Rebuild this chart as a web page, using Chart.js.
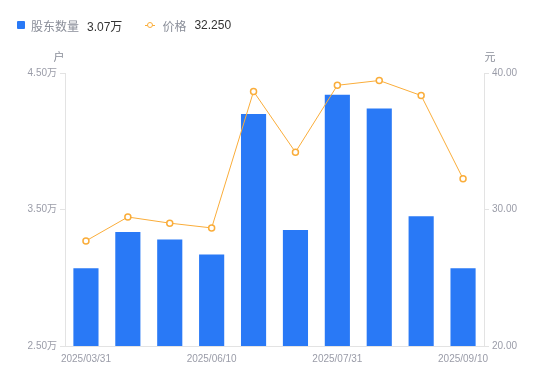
<!DOCTYPE html>
<html>
<head>
<meta charset="utf-8">
<script src="https://cdn.jsdelivr.net/npm/chart.js@4/dist/chart.umd.min.js"></script>
<style>
  html, body { margin: 0; padding: 0; background: #fff; }
  #wrap { position: relative; width: 550px; height: 381px; }
  #legend { position: absolute; left: 17px; top: 16px; height: 18px; display: flex; align-items: center;
    font-family: "Noto Sans CJK SC", "Liberation Sans", sans-serif; font-size: 12px; }
  .item { display: flex; align-items: center; margin-right: 23px; }
  .sq { width: 8px; height: 8px; background: #2979F6; border-radius: 1px; margin-right: 6px; }
  .ln { position: relative; width: 10px; height: 8px; margin-right: 7px; }
  .ln:before { content: ""; position: absolute; left: 0; right: 0; top: 3.5px; height: 1px; background: #FAAD3A; }
  .ln:after { content: ""; position: absolute; left: 2px; top: 1px; width: 4px; height: 4px; border: 1.5px solid #FAAD3A; border-radius: 50%; background: #fff; }
  .nm { color: #8a8e99; margin-right: 8px; }
  .vl { color: #333; font-family: "Liberation Sans", "Noto Sans CJK SC", sans-serif; font-size: 12px; }
  canvas { position: absolute; left: 0; top: 0; }
</style>
</head>
<body>
<div id="wrap">
  <canvas id="c" width="550" height="381"></canvas>
  <div id="legend"></div>
</div>
<script>
const categories = ["2025/03/31","2025/04/18","2025/05/20","2025/06/10","2025/06/30","2025/07/10","2025/07/31","2025/08/20","2025/08/29","2025/09/10"];
const holders = [3.07, 3.335, 3.28, 3.17, 4.20, 3.35, 4.34, 4.24, 3.45, 3.07];   // 万户
const prices = [27.7, 29.45, 29.0, 28.65, 38.65, 34.2, 39.1, 39.45, 38.35, 32.25]; // 元
const leftTicks = [2.5, 3.5, 4.5];
const rightTicks = [20, 30, 40];
const seriesNames = ["股东数量", "价格"];
const axisUnits = ["户", "元"];

const legend = document.getElementById('legend');
legend.innerHTML =
  '<div class="item"><span class="sq"></span><span class="nm">' + seriesNames[0] + '</span><span class="vl">' + holders[holders.length-1].toFixed(2) + '万</span></div>' +
  '<div class="item"><span class="ln"></span><span class="nm">' + seriesNames[1] + '</span><span class="vl">' + prices[prices.length-1].toFixed(3) + '</span></div>';

const tickFont = { family: '"Liberation Sans", "Noto Sans CJK SC", sans-serif', size: 10 };
const tickColor = '#9a9ca8';
const axisColor = '#e3e3e3';

const unitPlugin = {
  id: 'units',
  afterDraw(chart) {
    const ctx = chart.ctx, a = chart.chartArea;
    ctx.save();
    ctx.font = '11px "Noto Sans CJK SC", sans-serif';
    ctx.fillStyle = '#8a8e99';
    ctx.textBaseline = 'middle';
    ctx.textAlign = 'center';
    ctx.fillText(axisUnits[0], a.left - 6, a.top - 16);
    ctx.fillText(axisUnits[1], a.right + 6, a.top - 16);
    ctx.restore();
  }
};

new Chart(document.getElementById('c'), {
  data: {
    labels: categories,
    datasets: [
      { type: 'line', label: seriesNames[1], data: prices, yAxisID: 'y1', order: 0,
        borderColor: '#FAAD3A', borderWidth: 1, tension: 0,
        pointRadius: 3, pointBorderWidth: 1.5, pointBackgroundColor: '#fff', pointBorderColor: '#FAAD3A' },
      { type: 'bar', label: seriesNames[0], data: holders, yAxisID: 'y', order: 1,
        backgroundColor: '#2979F6', barPercentage: 0.6, categoryPercentage: 1 }
    ]
  },
  options: {
    responsive: false,
    animation: false,
    layout: { padding: { top: 73, left: 0, right: 0, bottom: 0 } },
    plugins: { legend: { display: false }, tooltip: { enabled: false } },
    scales: {
      x: {
        offset: true,
        grid: { display: true, drawOnChartArea: false, drawTicks: false, color: 'transparent' },
        border: { display: true, color: axisColor },
        ticks: {
          autoSkip: false, maxRotation: 0, font: tickFont, color: tickColor, padding: 7,
          callback: function(v, i) { return i % 3 === 0 ? categories[i] : ''; }
        },
        afterFit(s) { s.height = 35; }
      },
      y: {
        position: 'left', min: 2.5, max: 4.5,
        grid: { drawOnChartArea: false, drawTicks: true, tickLength: 5, color: axisColor },
        border: { display: true, color: axisColor },
        ticks: { font: tickFont, color: tickColor, padding: 3,
          callback: function(v) { return v.toFixed(2) + '万'; } },
        afterBuildTicks(s) { s.ticks = leftTicks.map(v => ({ value: v })); },
        afterFit(s) { s.width = 65; }
      },
      y1: {
        position: 'right', min: 20, max: 40,
        grid: { drawOnChartArea: false, drawTicks: true, tickLength: 5, color: axisColor },
        border: { display: true, color: axisColor },
        ticks: { font: tickFont, color: tickColor, padding: 3,
          callback: function(v) { return v.toFixed(2); } },
        afterBuildTicks(s) { s.ticks = rightTicks.map(v => ({ value: v })); },
        afterFit(s) { s.width = 66; }
      }
    }
  },
  plugins: [unitPlugin]
});
</script>
</body>
</html>
